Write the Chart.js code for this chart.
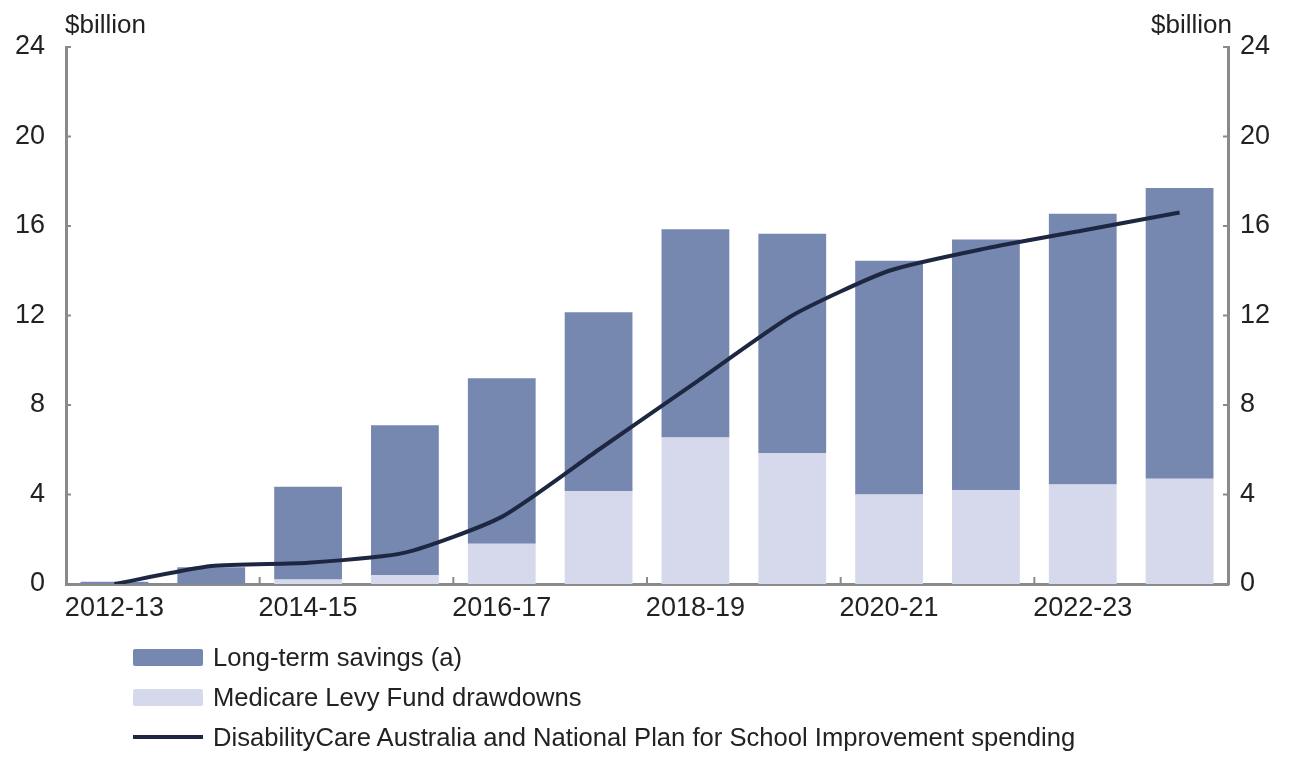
<!DOCTYPE html>
<html>
<head>
<meta charset="utf-8">
<title>Long-term savings</title>
<script src="https://cdn.jsdelivr.net/npm/chart.js@4.4.1/dist/chart.umd.min.js"></script>
<style>
  html, body { margin: 0; padding: 0; background: #fff; }
  #wrap { position: relative; width: 1300px; height: 757px; }
  #legend {
    position: absolute; left: 133px; top: 637px;
    font: 25.6px "Liberation Sans", Arial, sans-serif; color: #222;
  }
  .item { display: flex; align-items: center; height: 40px; }
  .sw { width: 70px; height: 17px; margin-right: 10px; border-radius: 2px; }
  .ln { width: 70px; height: 4px; margin-right: 10px; }
</style>
</head>
<body>
<div id="wrap">
  <canvas id="chart" width="1300" height="757"></canvas>
  <div id="legend"></div>
</div>
<script>
const years = ['2012-13', '2013-14', '2014-15', '2015-16', '2016-17', '2017-18',
  '2018-19', '2019-20', '2020-21', '2021-22', '2022-23', '2023-24'];
const longTermSavings = [0.1, 0.75, 4.15, 6.7, 7.4, 8.0, 9.3, 9.8, 10.45, 11.2, 12.1, 13.0];
const medicareLevy = [0, 0, 0.2, 0.4, 1.8, 4.15, 6.55, 5.85, 4.0, 4.2, 4.45, 4.7];
const dcaSpending = [0, 0.8, 0.95, 1.4, 3.0, 6.0, 9.0, 12.0, 14.0, 15.0, 15.8, 16.6];
const yMin = 0, yMax = 24, yStep = 4;

const DARK = '#7687b0';
const LIGHT = '#d6d8ec';
const LINE = '#1d2741';
const AXIS = '#8a8a8a';
const FONT = '"Liberation Sans", Arial, sans-serif';

// inward tick marks, x boundary marks and the "$billion" headers
const decor = {
  id: 'decor',
  afterDraw(chart) {
    const { ctx, chartArea: a, scales } = chart;
    ctx.save();
    ctx.strokeStyle = AXIS;
    ctx.lineWidth = 2;
    for (let v = yMin; v <= yMax; v += yStep) {
      const y = scales.y.getPixelForValue(v);
      ctx.beginPath();
      ctx.moveTo(a.left, y); ctx.lineTo(a.left + 5, y);
      ctx.moveTo(a.right - 5, y); ctx.lineTo(a.right, y);
      ctx.stroke();
    }
    const half = (scales.x.getPixelForValue(1) - scales.x.getPixelForValue(0)) / 2;
    for (let i = 2; i < years.length; i += 2) {
      const x = scales.x.getPixelForValue(i) - half;
      ctx.beginPath();
      ctx.moveTo(x, a.bottom); ctx.lineTo(x, a.bottom - 7);
      ctx.stroke();
    }
    ctx.fillStyle = '#222';
    ctx.font = '26px ' + FONT;
    ctx.textBaseline = 'bottom';
    ctx.textAlign = 'left';
    ctx.fillText('$billion', a.left - 1, a.top - 8);
    ctx.textAlign = 'right';
    ctx.fillText('$billion', a.right + 4, a.top - 8);
    ctx.restore();
  }
};

const chart = new Chart(document.getElementById('chart'), {
  type: 'bar',
  data: {
    labels: years,
    datasets: [
      {
        type: 'line',
        label: 'DisabilityCare Australia and National Plan for School Improvement spending',
        data: dcaSpending,
        borderColor: LINE,
        borderWidth: 4,
        pointRadius: 0,
        tension: 0.2,
        stack: 'line',
        order: 1
      },
      {
        label: 'Medicare Levy Fund drawdowns',
        data: medicareLevy,
        backgroundColor: LIGHT,
        stack: 'bars',
        order: 2
      },
      {
        label: 'Long-term savings (a)',
        data: longTermSavings,
        backgroundColor: DARK,
        stack: 'bars',
        order: 2
      }
    ]
  },
  options: {
    responsive: false,
    animation: false,
    layout: { padding: { top: 47, left: 0, right: 0, bottom: 0 } },
    datasets: {
      bar: { categoryPercentage: 1, barPercentage: 0.7 }
    },
    plugins: {
      legend: { display: false },
      tooltip: { enabled: false }
    },
    scales: {
      x: {
        stacked: true,
        grid: { display: false, drawTicks: false },
        border: { color: AXIS, width: 3 },
        ticks: {
          color: '#222',
          font: { family: FONT, size: 27 },
          padding: 8,
          autoSkip: false,
          maxRotation: 0,
          callback: (v, i) => (i % 2 === 0 ? years[i] : '')
        },
        afterFit: s => { s.height = 173; }
      },
      y: {
        stacked: true,
        position: 'left',
        min: yMin, max: yMax,
        grid: { display: false, drawTicks: false },
        border: { color: AXIS, width: 3 },
        ticks: {
          stepSize: yStep,
          color: '#222',
          font: { family: FONT, size: 27 },
          padding: 21
        },
        afterFit: s => { s.width = 66; }
      },
      y2: {
        position: 'right',
        min: yMin, max: yMax,
        grid: { display: false, drawTicks: false },
        border: { color: AXIS, width: 3 },
        ticks: {
          stepSize: yStep,
          color: '#222',
          font: { family: FONT, size: 27 },
          padding: 12
        },
        afterFit: s => { s.width = 72; }
      }
    }
  },
  plugins: [decor]
});

// html legend in the reference order
const legend = document.getElementById('legend');
[2, 1, 0].forEach(i => {
  const ds = chart.data.datasets[i];
  const row = document.createElement('div');
  row.className = 'item';
  const mark = document.createElement('span');
  if (ds.type === 'line') {
    mark.className = 'ln';
    mark.style.background = ds.borderColor;
  } else {
    mark.className = 'sw';
    mark.style.background = ds.backgroundColor;
  }
  const txt = document.createElement('span');
  txt.textContent = ds.label;
  row.append(mark, txt);
  legend.appendChild(row);
});
</script>
</body>
</html>
